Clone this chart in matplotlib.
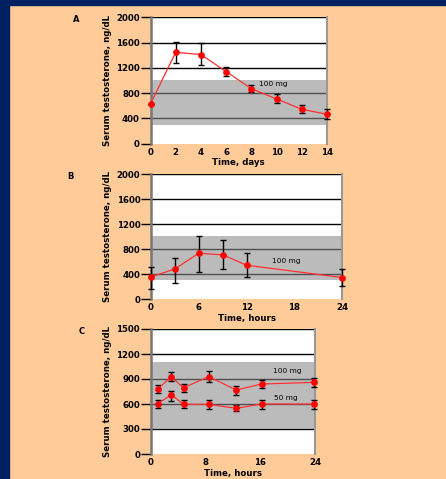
import matplotlib
matplotlib.use("Agg")
import matplotlib.pyplot as plt
from matplotlib.patches import Rectangle

W, H = 446, 479
PEACH = "#FFCC99"
NAVY = "#002060"

# panel A: days
a_x = [0, 2, 4, 6, 8, 10, 12, 14]
a_y = [630, 1445, 1410, 1140, 870, 707, 544, 464]
a_lo = [630, 1282, 1240, 1076, 813, 639, 480, 390]
a_hi = [630, 1615, 1599, 1208, 934, 792, 607, 544]

# panel B: hours
b_x = [0, 3, 6, 9, 12, 24]
b_y = [357, 485, 736, 709, 544, 347]
b_lo = [171, 267, 443, 485, 352, 219]
b_hi = [512, 667, 1003, 949, 747, 485]

# panel C: hours, two doses
c_x = [1, 3, 4.8, 8.5, 12.5, 16.2, 23.9]
c100_y = [780, 924, 796, 928, 768, 840, 860]
c100_lo = [728, 872, 748, 864, 712, 792, 800]
c100_hi = [832, 980, 840, 992, 812, 884, 908]
c50_y = [600, 712, 596, 596, 548, 600, 600]
c50_lo = [548, 636, 552, 536, 512, 536, 540]
c50_hi = [648, 760, 644, 648, 588, 652, 652]

fig = plt.figure(figsize=(W / 100, H / 100), dpi=100)
fig.patch.set_facecolor(PEACH)
fig.patches.append(Rectangle((0, 0), 9 / W, 1, transform=fig.transFigure, color=NAVY, zorder=0))
fig.patches.append(Rectangle((0, 1 - 5 / H), 1, 5 / H, transform=fig.transFigure, color=NAVY, zorder=0))


def make_ax(l, r, top, bot):
    return fig.add_axes([l / W, 1 - bot / H, (r - l) / W, (bot - top) / H])


def style(ax, xmax, xticks, ymax, yticks, band, xlabel, letter):
    ax.set_facecolor("white")
    ax.set_xlim(0, xmax)
    ax.set_ylim(0, ymax)
    ax.set_xticks(xticks)
    ax.set_yticks(yticks)
    ax.set_axisbelow(True)
    for y in yticks[1:]:
        ax.axhline(y, color="black", lw=1, zorder=0.5)
    ax.axhspan(band[0], band[1], color=(0.54, 0.54, 0.54), alpha=0.58, lw=0, zorder=1)
    for s in ["top", "bottom"]:
        ax.spines[s].set_visible(False)
    ax.spines["left"].set_color("#777777")
    ax.spines["left"].set_linewidth(1.8)
    ax.spines["right"].set_color("#999999")
    ax.spines["right"].set_linewidth(1.5)
    ax.tick_params(axis="y", length=7.2, width=1, color="black", pad=0.5,
                   labelsize=6.2)
    ax.tick_params(axis="x", length=0, pad=3, labelsize=6.2)
    for t in ax.get_xticklabels() + ax.get_yticklabels():
        t.set_fontweight("bold")
    ax.set_xlabel(xlabel, fontsize=6.2, fontweight="bold", labelpad=1)
    ax.set_ylabel("Serum testosterone, ng/dL", fontsize=6.2, fontweight="bold", labelpad=3)
    ax.text(-0.42, 0.98, letter, transform=ax.transAxes, fontsize=6, fontweight="bold",
            ha="center", va="center")


def series(ax, x, y, lo, hi):
    ax.errorbar(x, y, yerr=[[v - l for v, l in zip(y, lo)], [h - v for v, h in zip(y, hi)]],
                fmt="none", ecolor="black", elinewidth=1, capsize=2.5, capthick=1,
                zorder=3, clip_on=False)
    ax.plot(x, y, color="#FF3030", lw=0.9, marker="o", ms=3.8, mfc="red", mec="red",
            zorder=4, clip_on=False)


axA = make_ax(150.5, 327, 17.3, 143.6)
style(axA, 14, list(range(0, 15, 2)), 2000, [0, 400, 800, 1200, 1600, 2000],
      (300, 1000), "Time, days", "A")
series(axA, a_x, a_y, a_lo, a_hi)
axA.text(9.7, 940, "100 mg", fontsize=5.3, ha="center", va="center", zorder=5)

axB = make_ax(151, 342.3, 174, 299.3)
style(axB, 24, [0, 6, 12, 18, 24], 2000, [0, 400, 800, 1200, 1600, 2000],
      (310, 1010), "Time, hours", "B")
series(axB, b_x, b_y, b_lo, b_hi)
axB.text(17, 610, "100 mg", fontsize=5.3, ha="center", va="center", zorder=5)

axC = make_ax(150.7, 315, 329, 454)
style(axC, 24, [0, 8, 16, 24], 1500, [0, 300, 600, 900, 1200, 1500],
      (300, 1105), "Time, hours", "C")
series(axC, c_x, c100_y, c100_lo, c100_hi)
series(axC, c_x, c50_y, c50_lo, c50_hi)
axC.text(19.9, 1000, "100 mg", fontsize=5.3, ha="center", va="center", zorder=5)
axC.text(19.8, 676, "50 mg", fontsize=5.3, ha="center", va="center", zorder=5)

fig.savefig("out.png", dpi=100, facecolor=PEACH)
